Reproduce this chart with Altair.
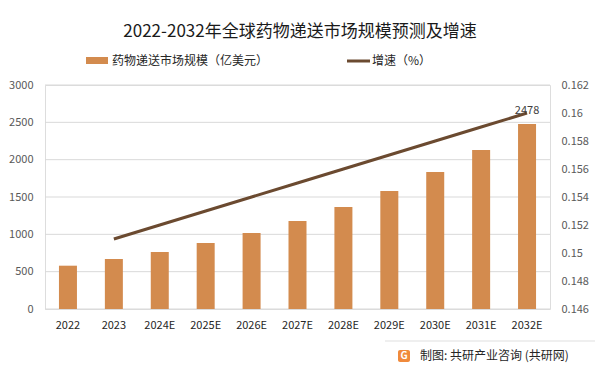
import altair as alt
import pandas as pd

years = ["2022", "2023", "2024E", "2025E", "2026E", "2027E", "2028E", "2029E", "2030E", "2031E", "2032E"]
market = [580, 670, 763, 884, 1018, 1179, 1366, 1580, 1835, 2130, 2478]
growth = [None, 0.151, 0.152, 0.153, 0.154, 0.155, 0.156, 0.157, 0.158, 0.159, 0.160]
left_ticks = [0, 500, 1000, 1500, 2000, 2500, 3000]
right_ticks = [0.146, 0.148, 0.15, 0.152, 0.154, 0.156, 0.158, 0.16, 0.162]

title_text = "2022-2032年全球药物递送市场规模预测及增速"
legend_bar = "药物递送市场规模（亿美元）"
legend_line = "增速（%）"
source_text = "制图: 共研产业咨询 (共研网)"

BAR = "#D38B4E"
LINE = "#6B4A30"
FONT = "Noto Sans CJK SC"

df = pd.DataFrame({"year": years, "market": market, "growth": growth})
grid_df = pd.DataFrame({"v": left_ticks})

W, H = 505, 224
xaxis = alt.Axis(labelAngle=0, ticks=False, domain=False, labelPadding=10, grid=False,
                 labelColor="#262626", labelFontSize=11, labelFont=FONT)
xenc = alt.X("year:N", sort=years, title=None,
             scale=alt.Scale(paddingInner=0, paddingOuter=0), axis=xaxis)
lscale = alt.Scale(domain=[0, 3000])

grid = alt.Chart(grid_df).mark_rule(color="#D9D9D9", strokeWidth=1).encode(
    y=alt.Y("v:Q", scale=lscale, axis=None))

base = alt.Chart(df)

bars = base.mark_bar(size=18, color=BAR).encode(
    x=xenc,
    y=alt.Y("market:Q", title=None, scale=lscale,
            axis=alt.Axis(values=left_ticks, ticks=False, domain=False, grid=False,
                          labelColor="#595959", labelFontSize=11,
                          format="d", labelPadding=12, labelFont=FONT)))

line = base.mark_line(color=LINE, strokeWidth=3).encode(
    x=xenc,
    y=alt.Y("growth:Q", title=None,
            scale=alt.Scale(domain=[0.146, 0.162], zero=False),
            axis=alt.Axis(orient="right", values=right_ticks,
                          format="~g", ticks=False, domain=False, grid=False,
                          labelColor="#595959", labelFontSize=11, labelPadding=11, labelFont=FONT)),
)

label = base.transform_filter(alt.datum.year == "2032E").mark_text(
    dy=-13, fontSize=11, color="#404040", font=FONT
).encode(x=xenc, y=alt.Y("market:Q", scale=lscale, axis=None), text=alt.Text("market:Q"))

one = pd.DataFrame({"k": [0]})
deco = alt.Chart(one)
title = deco.mark_text(text=title_text, fontSize=17, color="#1a1a1a", font=FONT, align="center", baseline="middle").encode(
    x=alt.value(255), y=alt.value(-53))
sw1 = deco.mark_rect(color=BAR).encode(x=alt.value(41), x2=alt.value(63), y=alt.value(-28), y2=alt.value(-21))
lt1 = deco.mark_text(text=legend_bar, fontSize=12, color="#262626", font=FONT, align="left", baseline="middle").encode(
    x=alt.value(67), y=alt.value(-24))
sw2 = deco.mark_rect(color=LINE).encode(x=alt.value(302), x2=alt.value(325), y=alt.value(-25.5), y2=alt.value(-22.5))
lt2 = deco.mark_text(text=legend_line, fontSize=12, color="#262626", font=FONT, align="left", baseline="middle").encode(
    x=alt.value(327), y=alt.value(-24))
sep = deco.mark_rect(color="#E0E0E0").encode(x=alt.value(340), x2=alt.value(552), y=alt.value(255.5), y2=alt.value(256.5))
logo = deco.mark_rect(color="#F08A3C", cornerRadius=2).encode(x=alt.value(353), x2=alt.value(365), y=alt.value(265), y2=alt.value(277))
logo_t = deco.mark_text(text="G", fontSize=10, fontWeight="bold", color="white", font=FONT, align="center", baseline="middle").encode(
    x=alt.value(359), y=alt.value(271))
src = deco.mark_text(text=source_text, fontSize=12, color="#262626", font=FONT, align="left", baseline="middle").encode(
    x=alt.value(375), y=alt.value(271))

chart = alt.layer(grid, bars, line, label, title, sw1, lt1, sw2, lt2, sep, logo, logo_t, src).resolve_scale(
    y="independent"
).properties(
    width=W, height=H,
    padding={"left": 37, "top": 77, "right": 45, "bottom": 56},
    autosize=alt.AutoSizeParams(type="none"),
    background="white",
).configure_view(strokeWidth=0).configure_axis(domain=False, ticks=False).configure(font=FONT)

chart.save("out.html", embed_options={"renderer": "svg", "actions": False})
